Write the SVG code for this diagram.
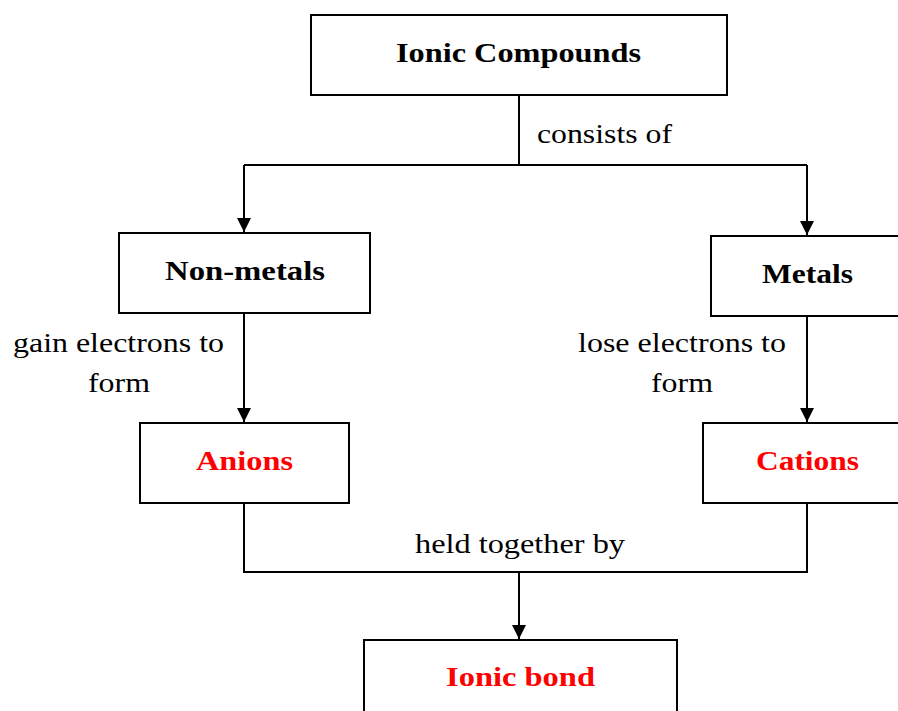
<svg xmlns="http://www.w3.org/2000/svg" width="898" height="711" viewBox="0 0 898 711">
<style>
rect.box{fill:#fff;stroke:#000;stroke-width:2}
text{font-family:"Liberation Serif","DejaVu Serif",serif;font-size:27px;fill:#000}
.b{font-weight:bold}
.r{fill:#ff0000}
.ln{fill:none;stroke:#000;stroke-width:2}
</style>
<defs>
<marker id="ah" markerUnits="userSpaceOnUse" markerWidth="14" markerHeight="16" refX="14" refY="7" orient="auto">
<path d="M0,0 L14,7 L0,14 Z" fill="#000"/>
</marker>
</defs>
<g id="connectors">
<polyline class="ln" points="519,95 519,165"/>
<polyline class="ln" points="244,165 807,165"/>
<polyline class="ln" points="244,165 244,232" marker-end="url(#ah)"/>
<polyline class="ln" points="807,165 807,235" marker-end="url(#ah)"/>
<polyline class="ln" points="244,313 244,422" marker-end="url(#ah)"/>
<polyline class="ln" points="807,316 807,422" marker-end="url(#ah)"/>
<polyline class="ln" points="244,503 244,572 807,572 807,503"/>
<polyline class="ln" points="519,572 519,639" marker-end="url(#ah)"/>
<text x="537" y="143" textLength="135" lengthAdjust="spacingAndGlyphs">consists of</text>
<text x="13" y="352" textLength="211" lengthAdjust="spacingAndGlyphs">gain electrons to</text>
<text x="88" y="392" textLength="62" lengthAdjust="spacingAndGlyphs">form</text>
<text x="578" y="352" textLength="208" lengthAdjust="spacingAndGlyphs">lose electrons to</text>
<text x="651" y="392" textLength="62" lengthAdjust="spacingAndGlyphs">form</text>
<text x="415" y="553" textLength="210" lengthAdjust="spacingAndGlyphs">held together by</text>
</g>
<g id="ionic-compounds">
<rect class="box" x="311" y="15" width="416" height="80"/>
<text class="b" x="396" y="62" textLength="245" lengthAdjust="spacingAndGlyphs">Ionic Compounds</text>
</g>
<g id="non-metals">
<rect class="box" x="119" y="233" width="251" height="80"/>
<text class="b" x="165" y="280" textLength="160" lengthAdjust="spacingAndGlyphs">Non-metals</text>
</g>
<g id="metals">
<rect class="box" x="711" y="236" width="200" height="80"/>
<text class="b" x="762" y="283" textLength="91" lengthAdjust="spacingAndGlyphs">Metals</text>
</g>
<g id="anions">
<rect class="box" x="140" y="423" width="209" height="80"/>
<text class="b r" x="196" y="470" textLength="97" lengthAdjust="spacingAndGlyphs">Anions</text>
</g>
<g id="cations">
<rect class="box" x="703" y="423" width="210" height="80"/>
<text class="b r" x="756" y="470" textLength="103" lengthAdjust="spacingAndGlyphs">Cations</text>
</g>
<g id="ionic-bond">
<rect class="box" x="364" y="640" width="313" height="90"/>
<text class="b r" x="446" y="686" textLength="149" lengthAdjust="spacingAndGlyphs">Ionic bond</text>
</g>
</svg>
